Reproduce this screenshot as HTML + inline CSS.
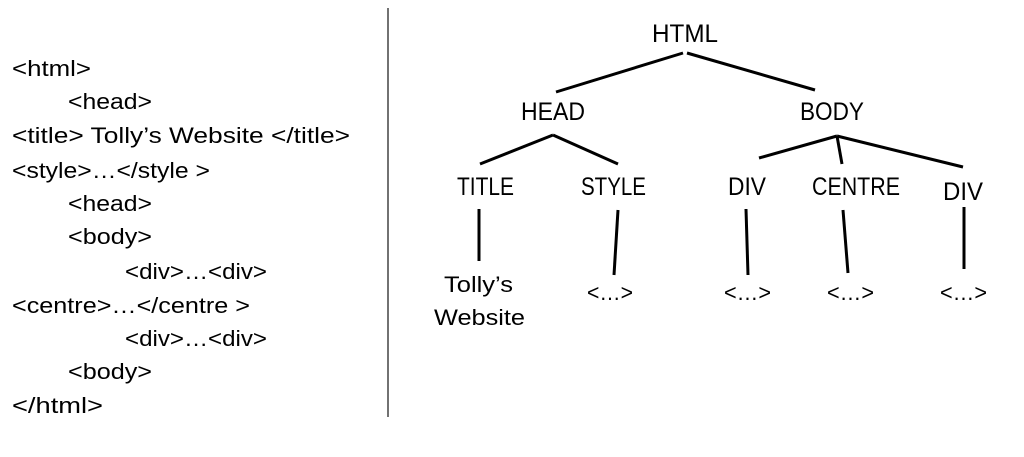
<!DOCTYPE html>
<html><head><style>body{margin:0;background:#fff;}svg{display:block}</style></head><body>
<svg width="1024" height="457" viewBox="0 0 1024 457" xmlns="http://www.w3.org/2000/svg" font-family="Liberation Sans, sans-serif" fill="#000">
<line x1="388" y1="8" x2="388" y2="417" stroke="#444" stroke-width="1.5"/>
<g font-size="22">
<text x="12" y="76" textLength="79" lengthAdjust="spacingAndGlyphs">&lt;html&gt;</text>
<text x="68" y="109" textLength="84" lengthAdjust="spacingAndGlyphs">&lt;head&gt;</text>
<text x="12" y="143" textLength="338" lengthAdjust="spacingAndGlyphs">&lt;title&gt; Tolly’s Website &lt;/title&gt;</text>
<text x="12" y="178" textLength="198" lengthAdjust="spacingAndGlyphs">&lt;style&gt;…&lt;/style &gt;</text>
<text x="68" y="211" textLength="84" lengthAdjust="spacingAndGlyphs">&lt;head&gt;</text>
<text x="68" y="244" textLength="84" lengthAdjust="spacingAndGlyphs">&lt;body&gt;</text>
<text x="125" y="279" textLength="142" lengthAdjust="spacingAndGlyphs">&lt;div&gt;…&lt;div&gt;</text>
<text x="12" y="313" textLength="238" lengthAdjust="spacingAndGlyphs">&lt;centre&gt;…&lt;/centre &gt;</text>
<text x="125" y="346" textLength="142" lengthAdjust="spacingAndGlyphs">&lt;div&gt;…&lt;div&gt;</text>
<text x="68" y="379" textLength="84" lengthAdjust="spacingAndGlyphs">&lt;body&gt;</text>
<text x="12" y="413" textLength="91" lengthAdjust="spacingAndGlyphs">&lt;/html&gt;</text>
</g>
<g stroke="#000" stroke-width="3" stroke-linecap="butt">
<line x1="683" y1="53" x2="556" y2="92"/>
<line x1="687" y1="53" x2="815" y2="90"/>
<line x1="553" y1="135" x2="480" y2="164"/>
<line x1="553" y1="135" x2="618" y2="164"/>
<line x1="837" y1="136" x2="759" y2="158"/>
<line x1="837" y1="136" x2="842" y2="164"/>
<line x1="837" y1="136" x2="963" y2="167"/>
<line x1="479" y1="209" x2="479" y2="261"/>
<line x1="618" y1="210" x2="614" y2="275"/>
<line x1="746" y1="209" x2="748" y2="275"/>
<line x1="843" y1="210" x2="848" y2="273"/>
<line x1="964" y1="207" x2="964" y2="269"/>
</g>
<g font-size="25">
<text x="652" y="42" textLength="66" lengthAdjust="spacingAndGlyphs">HTML</text>
<text x="521" y="120" textLength="64" lengthAdjust="spacingAndGlyphs">HEAD</text>
<text x="800" y="120" textLength="64" lengthAdjust="spacingAndGlyphs">BODY</text>
<text x="457" y="195" textLength="57" lengthAdjust="spacingAndGlyphs">TITLE</text>
<text x="581" y="195" textLength="65" lengthAdjust="spacingAndGlyphs">STYLE</text>
<text x="728" y="195" textLength="38" lengthAdjust="spacingAndGlyphs">DIV</text>
<text x="812" y="195" textLength="88" lengthAdjust="spacingAndGlyphs">CENTRE</text>
<text x="943" y="200" textLength="40" lengthAdjust="spacingAndGlyphs">DIV</text>
</g>
<g font-size="22">
<text x="444" y="292" textLength="69" lengthAdjust="spacingAndGlyphs">Tolly’s</text>
<text x="434" y="325" textLength="91" lengthAdjust="spacingAndGlyphs">Website</text>
<text x="587" y="300" textLength="46" lengthAdjust="spacingAndGlyphs">&lt;…&gt;</text>
<text x="724" y="300" textLength="47" lengthAdjust="spacingAndGlyphs">&lt;…&gt;</text>
<text x="827" y="300" textLength="47" lengthAdjust="spacingAndGlyphs">&lt;…&gt;</text>
<text x="940" y="300" textLength="47" lengthAdjust="spacingAndGlyphs">&lt;…&gt;</text>
</g>
</svg>
</body></html>
